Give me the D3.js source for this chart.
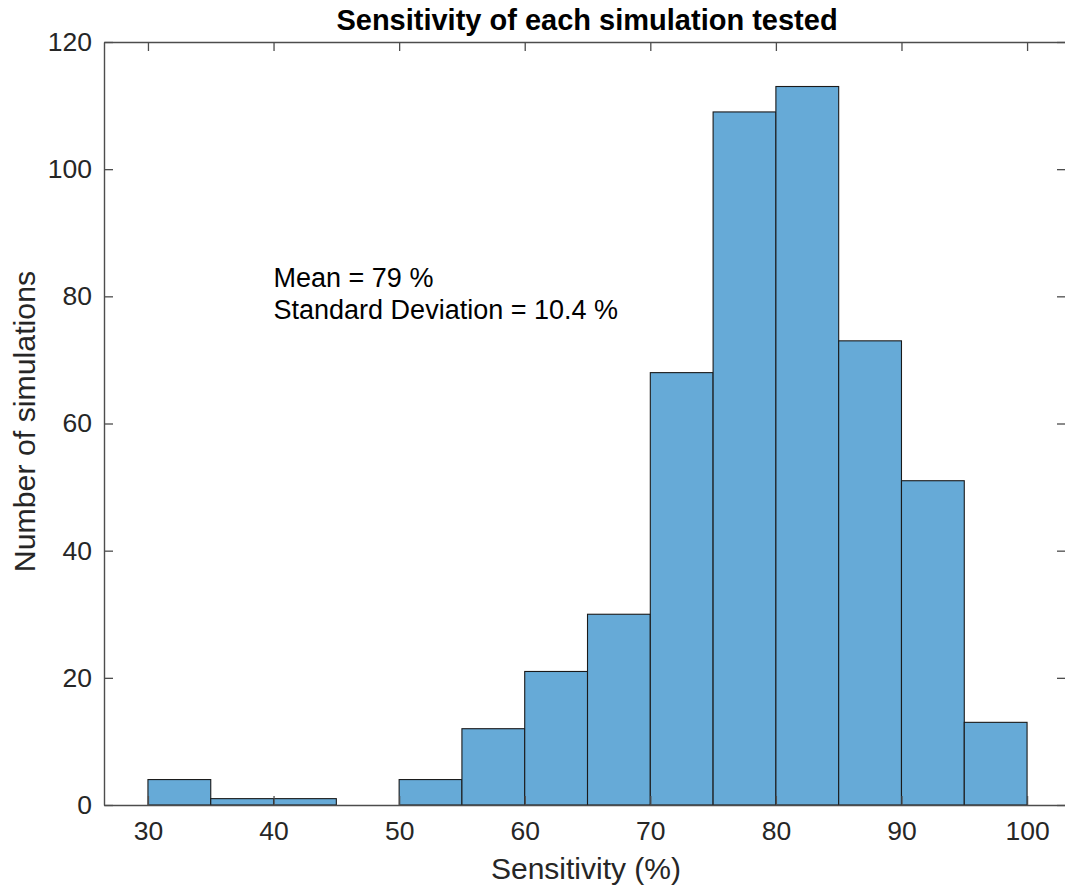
<!DOCTYPE html>
<html>
<head>
<meta charset="utf-8">
<script src="https://cdn.jsdelivr.net/npm/d3@7"></script>
<style>
  html, body { margin: 0; padding: 0; background: #ffffff; }
  svg { display: block; }
  text { font-family: Helvetica, Arial, "Liberation Sans", sans-serif; fill: #262626; }
</style>
</head>
<body>
<svg id="chart" width="1065" height="886"></svg>
<script>
// ---- data ----
const binEdges = [30, 35, 40, 45, 50, 55, 60, 65, 70, 75, 80, 85, 90, 95, 100];
const counts   = [4, 1, 1, 0, 4, 12, 21, 30, 68, 109, 113, 73, 51, 13];
const xTicks   = [30, 40, 50, 60, 70, 80, 90, 100];
const yTicks   = [0, 20, 40, 60, 80, 100, 120];
const titleText = "Sensitivity of each simulation tested";
const xLabel = "Sensitivity (%)";
const yLabel = "Number of simulations";
const annotation = ["Mean = 79 %", "Standard Deviation = 10.4 %"];

// ---- layout ----
const mLeft = 104, mRight = 1066, mTop = 42, mBottom = 805;
const svg = d3.select("#chart");

const x = d3.scaleLinear().domain([26.5, 103.1]).range([mLeft, mRight]);
const y = d3.scaleLinear().domain([0, 120]).range([mBottom, mTop]);

const bins = counts.map((c, i) => ({ x0: binEdges[i], x1: binEdges[i + 1], n: c }));

// bars
svg.append("g").selectAll("rect")
  .data(bins.filter(d => d.n > 0))
  .join("rect")
  .attr("x", d => x(d.x0))
  .attr("width", d => x(d.x1) - x(d.x0))
  .attr("y", d => y(d.n))
  .attr("height", d => y(0) - y(d.n))
  .attr("fill", "#66aad7")
  .attr("stroke", "#1a1a1a")
  .attr("stroke-width", 1.1);

const axisColor = "#4d4d4d";
const tickLen = 9;

function styleAxis(g) {
  g.selectAll("path.domain").attr("stroke", axisColor).attr("stroke-width", 1.4);
  g.selectAll(".tick line").attr("stroke", axisColor).attr("stroke-width", 1.3);
  g.selectAll(".tick text").attr("fill", "#262626")
    .style("font-family", "Helvetica, Arial, 'Liberation Sans', sans-serif")
    .style("font-size", "26.5px");
}

// bottom axis (ticks inward)
const gx = svg.append("g").attr("transform", `translate(0,${mBottom})`)
  .call(d3.axisBottom(x).tickValues(xTicks).tickSizeInner(-tickLen).tickSizeOuter(0).tickPadding(16).tickFormat(d3.format("d")));
styleAxis(gx);
gx.selectAll(".tick text").attr("dy", "0.71em");

// top axis
const gxt = svg.append("g").attr("transform", `translate(0,${mTop})`)
  .call(d3.axisTop(x).tickValues(xTicks).tickSizeInner(-tickLen).tickSizeOuter(0).tickFormat(""));
styleAxis(gxt);

// left axis
const gy = svg.append("g").attr("transform", `translate(${mLeft},0)`)
  .call(d3.axisLeft(y).tickValues(yTicks).tickSizeInner(-tickLen).tickSizeOuter(0).tickPadding(12).tickFormat(d3.format("d")));
styleAxis(gy);

// right axis
const gyr = svg.append("g").attr("transform", `translate(${mRight},0)`)
  .call(d3.axisRight(y).tickValues(yTicks).tickSizeInner(-tickLen).tickSizeOuter(0).tickFormat(""));
styleAxis(gyr);

// title
svg.append("text")
  .attr("x", 587).attr("y", 30)
  .attr("text-anchor", "middle")
  .style("font-size", "29px").style("font-weight", "bold")
  .style("fill", "#000")
  .text(titleText);

// x label
svg.append("text")
  .attr("x", 586).attr("y", 879)
  .attr("text-anchor", "middle")
  .style("font-size", "30px")
  .text(xLabel);

// y label
svg.append("text")
  .attr("transform", `translate(35,${(mTop + mBottom) / 2 - 2}) rotate(-90)`)
  .attr("text-anchor", "middle")
  .style("font-size", "30.3px")
  .text(yLabel);

// annotation
const ann = svg.append("text").style("font-size", "27px").style("fill", "#000");
ann.selectAll("tspan").data(annotation).join("tspan")
  .attr("x", x(40))
  .attr("y", (d, i) => y(81.5) + i * 32.5)
  .text(d => d);
</script>
</body>
</html>
